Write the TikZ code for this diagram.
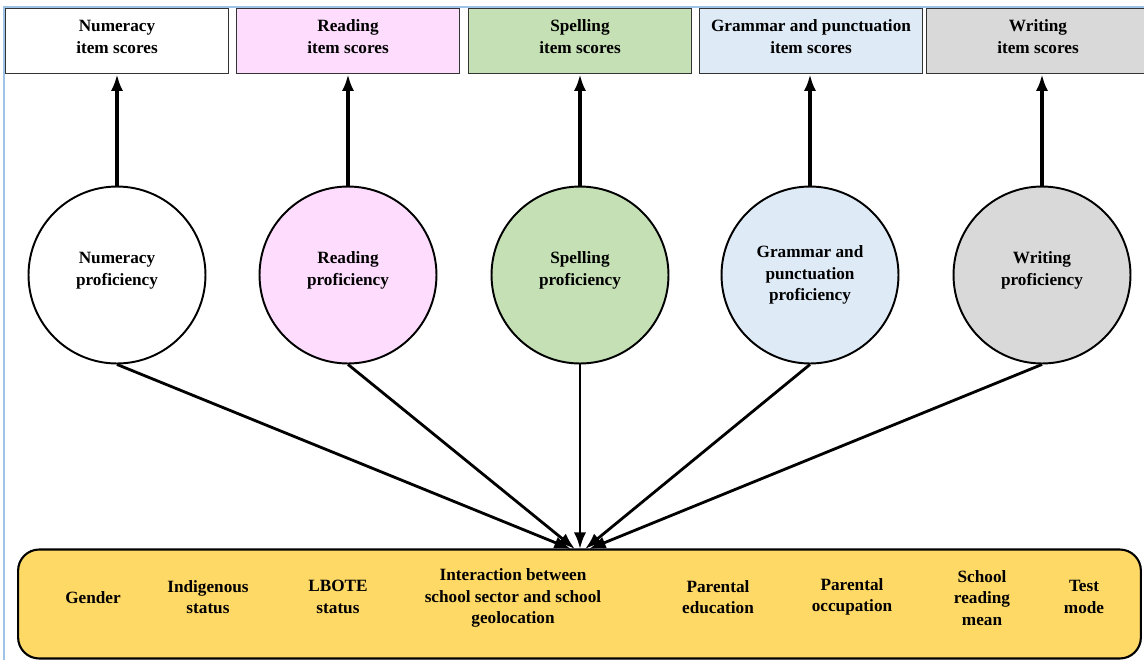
\documentclass[tikz,border=0pt]{standalone}
\usepackage{fontspec}
\setmainfont{Liberation Serif}
\usetikzlibrary{arrows.meta}

\definecolor{pinkfill}{HTML}{FDDCFD}
\definecolor{greenfill}{HTML}{C5E0B4}
\definecolor{bluefill}{HTML}{DEEAF6}
\definecolor{greyfill}{HTML}{D9D9D9}
\definecolor{yellowfill}{HTML}{FFD966}
\definecolor{framecol}{HTML}{9DC3E6}

\tikzset{
  scorebox/.style={draw=black!80, line width=0.9pt, minimum width=4.46cm, minimum height=1.3cm,
    align=center, font=\bfseries\fontsize{9.8}{12.3}\selectfont, text depth=0pt},
  latent/.style={draw, circle, line width=1.1pt, minimum size=3.54cm, align=center,
    font=\bfseries\fontsize{9.8}{12.3}\selectfont},
  factor/.style={align=center, font=\bfseries\fontsize{9.8}{12.3}\selectfont},
  uparrow/.style={line width=1.9pt, -{Latex[length=9.5pt,width=7pt]}},
  inarrow/.style={line width=1.6pt, -{Latex[length=9.5pt,width=7pt]}}
}

\begin{document}
\begin{tikzpicture}[x=0.02cm, y=-0.02cm]
    \useasboundingbox (0,0) rectangle (1144,660);
    \draw[framecol, line width=0.6pt] (4,660)--(4,7)--(1144,7);

    % item scores
    \node[scorebox] (numbox) at (117,41) {Numeracy\\item scores\\[-7.5pt]};
    \node[scorebox, fill=pinkfill] (readbox) at (348,41) {Reading\\item scores\\[-7.5pt]};
    \node[scorebox, fill=greenfill] (spellbox) at (580,41) {Spelling\\item scores\\[-7.5pt]};
    \node[scorebox, fill=bluefill] (grambox) at (811,41) {Grammar and punctuation\\item scores\\[-7.5pt]};
    \node[scorebox, fill=greyfill] (writebox) at (1038,41) {Writing\\item scores\\[-7.5pt]};

    % proficiencies
    \node[latent] (num) at (117,275) {Numeracy\\proficiency\\[-5pt]};
    \node[latent, fill=pinkfill] (read) at (348,275) {Reading\\proficiency\\[-5pt]};
    \node[latent, fill=greenfill] (spell) at (580,275) {Spelling\\proficiency\\[-5pt]};
    \node[latent, fill=bluefill] (gram) at (810,275) {Grammar and\\punctuation\\proficiency};
    \node[latent, fill=greyfill] (write) at (1042,275) {Writing\\proficiency\\[-5pt]};

    % covariates
    \node[draw, line width=1.2pt, rounded corners=12pt, fill=yellowfill,
      minimum width=22.46cm, minimum height=2.18cm] (cov) at (579.5,604) {};
    \coordinate (hubA) at (571,549);
    \coordinate (hubB) at (575,549);
    \coordinate (hubC) at (580,549);
    \coordinate (hubD) at (585,549);
    \coordinate (hubE) at (589,549);
    \node[factor] at (93,598) {Gender};
    \node[factor] at (208,597) {Indigenous\\status};
    \node[factor] at (338,597) {LBOTE\\status};
    \node[factor] at (513,598) {Interaction between\\school sector and school\\geolocation};
    \node[factor] at (718,597) {Parental\\education};
    \node[factor] at (852,597) {Parental\\occupation};
    \node[factor] at (982,598) {School\\reading\\mean};
    \node[factor] at (1084,597) {Test\\mode};

    \draw[uparrow] (num.north) -- (num.north |- numbox.south);
    \draw[uparrow] (read.north) -- (read.north |- readbox.south);
    \draw[uparrow] (spell.north) -- (spell.north |- spellbox.south);
    \draw[uparrow] (gram.north) -- (gram.north |- grambox.south);
    \draw[uparrow] (write.north) -- (write.north |- writebox.south);

    \draw[inarrow] (num.south) -- (hubA);
    \draw[inarrow] (read.south) -- (hubB);
    \draw[inarrow] (spell.south) -- (hubC);
    \draw[inarrow] (gram.south) -- (hubD);
    \draw[inarrow] (write.south) -- (hubE);
  \end{tikzpicture}
\end{document}
